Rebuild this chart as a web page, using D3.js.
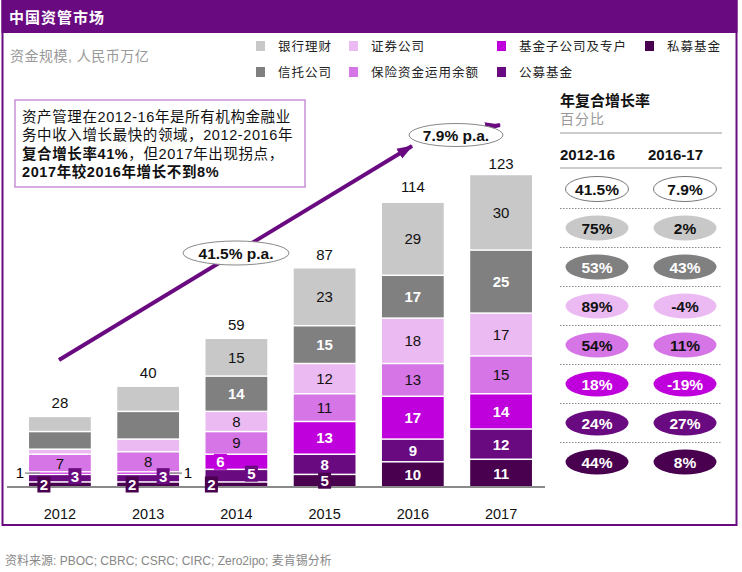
<!DOCTYPE html>
<html>
<head>
<meta charset="utf-8">
<script src="https://cdn.jsdelivr.net/npm/d3@7"></script>
<style>
body{margin:0;background:#fff;}
svg text{font-family:Arial,"Liberation Sans","Noto Sans CJK SC",sans-serif;}
</style>
</head>
<body>
<svg id="svg" width="742" height="572"></svg>
<script>
// data, bottom of stack first
var years = ["2012","2013","2014","2015","2016","2017"];
var seriesNames = ["私募基金","公募基金","基金子公司及专户","保险资金运用余额","证券公司","信托公司","银行理财"];
var privateFunds = [2,2,2,5,10,11];
var mutualFunds = [3,3,5,8,9,12];
var fundSubs = [1,1,6,13,17,14];
var insurance = [7,8,9,11,13,15];
var securities = [2,5,8,12,18,17];
var trusts = [7,11,14,15,17,25];
var bankWmp = [6,10,15,23,29,30];
var totals = [28,40,59,87,114,123];
var cagr1216 = ["41.5%","75%","53%","89%","54%","18%","24%","44%"];
var cagr1617 = ["7.9%","2%","43%","-4%","11%","-19%","27%","8%"];
var legendOrder = ["银行理财","证券公司","基金子公司及专户","私募基金","信托公司","保险资金运用余额","公募基金"];

var colors = {"私募基金":"#48004f","公募基金":"#6a0a80","基金子公司及专户":"#c000dc","保险资金运用余额":"#d676e6","证券公司":"#ecbaf2","信托公司":"#808080","银行理财":"#c8c8c8"};
var whiteText = {"私募基金":1,"公募基金":1,"基金子公司及专户":1,"信托公司":1};
var purple = "#6a0a80";

var svg = d3.select("#svg");
var values = [privateFunds,mutualFunds,fundSubs,insurance,securities,trusts,bankWmp];
var rows = years.map(function(y,i){
	var r = {year:y};
	seriesNames.forEach(function(s,j){ r[s] = values[j][i]; });
	return r;
});
var stack = d3.stack().keys(seriesNames)(rows);

var x = d3.scaleBand().domain(years).range([15.8,545.2]).paddingInner(0.3).paddingOuter(0.15);
var y = d3.scaleLinear().domain([0,123]).range([487,177]);

// frame + header
svg.append("rect").attr("x",2.5).attr("y",1).attr("width",734).attr("height",524).attr("fill","none").attr("stroke",purple).attr("stroke-width",2);
svg.append("rect").attr("x",1.5).attr("y",0).attr("width",736).attr("height",33).attr("fill",purple);
svg.append("text").attr("x",9).attr("y",23).attr("fill","#fff").attr("font-size",15).attr("font-weight","bold").attr("letter-spacing",1).text("中国资管市场");

svg.append("text").attr("x",10).attr("y",61).attr("fill","#999").attr("font-size",14).attr("letter-spacing",0.5).text("资金规模, 人民币万亿");

// legend
var legX = [256,349,497,645];
legendOrder.forEach(function(n,i){
	var lx = legX[i%4], ly = i<4 ? 41 : 67;
	svg.append("rect").attr("x",lx).attr("y",ly).attr("width",9).attr("height",10).attr("fill",colors[n]);
	svg.append("text").attr("x",lx+22).attr("y",ly+9.5).attr("font-size",12.5).attr("letter-spacing",1).attr("fill","#222").text(n);
});

// callout box
svg.append("rect").attr("x",15).attr("y",100).attr("width",290).attr("height",87).attr("fill","#fff").attr("stroke","#c890d8").attr("stroke-width",1.5);
var boxLines = [
	[["资产管理在2012-16年是所有机构金融业",0]],
	[["务中收入增长最快的领域，2012-2016年",0]],
	[["复合增长率41%",1],["，但2017年出现拐点，",0]],
	[["2017年较2016年增长不到8%",1]]
];
boxLines.forEach(function(l,i){
	var t = svg.append("text").attr("x",22).attr("y",122+i*18.3).attr("font-size",14.5).attr("letter-spacing",0.6).attr("fill","#111");
	l.forEach(function(p){ t.append("tspan").attr("font-weight",p[1]?"bold":"normal").text(p[0]); });
});

// bars
var g = svg.append("g");
stack.forEach(function(layer){
	g.selectAll(null).data(layer).enter().append("rect")
		.attr("x",function(d){ return x(d.data.year); })
		.attr("width",x.bandwidth())
		.attr("y",function(d){ return y(d[1])+0.75; })
		.attr("height",function(d){ return Math.max(0.6,y(d[0])-y(d[1])-1.5); })
		.attr("fill",colors[layer.key]);
});

svg.append("line").attr("x1",7).attr("x2",545).attr("y1",487).attr("y2",487).attr("stroke","#8a8a8a").attr("stroke-width",2);

// segment labels; small ones get a tag box, some hidden
var hidden = {"2012":["证券公司","信托公司","银行理财"],"2013":["证券公司","信托公司","银行理财"]};
var tagNudge = {"2012私募基金":-16,"2012公募基金":15,"2013私募基金":-16,"2013公募基金":15,"2014私募基金":-25,"2014公募基金":15,"2014基金子公司及专户":-16,"2015私募基金":0};
var sideLabel = {"2012基金子公司及专户":[20,25,40],"2013基金子公司及专户":[188,169,182]};
stack.forEach(function(layer){
	var k = layer.key;
	layer.forEach(function(d){
		var yr = d.data.year;
		if(hidden[yr] && hidden[yr].indexOf(k)>=0) return;
		var v = d[1]-d[0];
		var cx = x(yr)+x.bandwidth()/2, cy = (y(d[0])+y(d[1]))/2;
		var key = yr+k;
		var isW = whiteText[k];
		if(sideLabel[key]){
			var s = sideLabel[key];
			svg.append("line").attr("x1",s[1]).attr("x2",s[2]).attr("y1",cy).attr("y2",cy).attr("stroke","#999").attr("stroke-width",1.5);
			svg.append("text").attr("x",s[0]).attr("y",cy+5).attr("text-anchor","middle").attr("font-size",15).text(v);
			return;
		}
		if(tagNudge[key]!==undefined){
			cx += tagNudge[key];
			if(k=="私募基金" && yr!="2015") cy = 484.5;
			if(k=="公募基金") cy -= 2;
			svg.append("rect").attr("x",cx-6.5).attr("y",cy-8).attr("width",13).attr("height",16).attr("fill",colors[k]);
		}
		svg.append("text").attr("x",cx).attr("y",cy+5.5).attr("text-anchor","middle")
			.attr("font-size",15).attr("font-weight",isW?"bold":"normal").attr("fill",isW?"#fff":"#111").text(v);
	});
});

// totals and years
svg.selectAll(null).data(years).enter().append("text")
	.attr("x",function(d){ return x(d)+x.bandwidth()/2; })
	.attr("y",function(d,i){ return y(totals[i])-8; })
	.attr("text-anchor","middle").attr("font-size",15).attr("fill","#111")
	.text(function(d,i){ return totals[i]; });
svg.selectAll(null).data(years).enter().append("text")
	.attr("x",function(d){ return x(d)+x.bandwidth()/2; })
	.attr("y",519).attr("text-anchor","middle").attr("font-size",14.5).attr("fill","#111")
	.text(function(d){ return d; });

// growth arrows
svg.append("defs").append("marker").attr("id","ah").attr("markerUnits","userSpaceOnUse")
	.attr("viewBox","0 0 14 10").attr("refX",13).attr("refY",5).attr("markerWidth",16).attr("markerHeight",12).attr("orient","auto")
	.append("path").attr("d","M0,0L14,5L0,10Z").attr("fill",purple);
svg.append("line").attr("x1",59).attr("y1",360).attr("x2",412).attr("y2",146).attr("stroke",purple).attr("stroke-width",4).attr("marker-end","url(#ah)");
svg.append("line").attr("x1",440).attr("y1",137).attr("x2",500).attr("y2",125).attr("stroke",purple).attr("stroke-width",4).attr("marker-end","url(#ah)");
[[236,253,53,12,"41.5% p.a."],[456,135,47,11.5,"7.9% p.a."]].forEach(function(e){
	svg.append("ellipse").attr("cx",e[0]).attr("cy",e[1]).attr("rx",e[2]).attr("ry",e[3]).attr("fill","#fff").attr("stroke","#888").attr("stroke-width",1);
	svg.append("text").attr("x",e[0]).attr("y",e[1]+5.5).attr("text-anchor","middle").attr("font-size",15.5).attr("font-weight","bold").attr("fill","#111").text(e[4]);
});

// CAGR panel
svg.append("text").attr("x",560).attr("y",106).attr("font-size",15).attr("font-weight","bold").attr("fill","#111").text("年复合增长率");
svg.append("text").attr("x",560).attr("y",124).attr("font-size",14).attr("fill","#999").attr("letter-spacing",1).text("百分比");
svg.append("line").attr("x1",560).attr("x2",722).attr("y1",133).attr("y2",133).attr("stroke","#999").attr("stroke-width",1.2);
svg.append("text").attr("x",560).attr("y",160).attr("font-size",15).attr("font-weight","bold").attr("fill","#111").text("2012-16");
svg.append("text").attr("x",648).attr("y",160).attr("font-size",15).attr("font-weight","bold").attr("fill","#111").text("2016-17");
svg.append("line").attr("x1",560).attr("x2",722).attr("y1",168).attr("y2",168).attr("stroke","#999").attr("stroke-width",1.2);

var rowFill = ["#fff"].concat(seriesNames.slice().reverse().map(function(n){ return colors[n]; }));
var rowWhite = [0].concat(seriesNames.slice().reverse().map(function(n){ return whiteText[n]?1:0; }));
var ry = d3.scaleLinear().domain([0,1]).range([189,228]);
cagr1216.forEach(function(v,i){
	var cy = ry(i);
	if(i<7) svg.append("line").attr("x1",560).attr("x2",722).attr("y1",cy+19.5).attr("y2",cy+19.5).attr("stroke","#888").attr("stroke-width",1.2).attr("stroke-dasharray","1.5,1.5");
	[[597,v],[685,cagr1617[i]]].forEach(function(c){
		svg.append("ellipse").attr("cx",c[0]).attr("cy",cy).attr("rx",31.5).attr("ry",12.5).attr("fill",rowFill[i]).attr("stroke",i==0?"#777":"none");
		svg.append("text").attr("x",c[0]).attr("y",cy+5.5).attr("text-anchor","middle").attr("font-size",15.5).attr("font-weight","bold").attr("fill",rowWhite[i]?"#fff":"#111").text(c[1]);
	});
});

svg.append("text").attr("x",5).attr("y",565).attr("font-size",12).attr("fill","#888").text("资料来源: PBOC; CBRC; CSRC; CIRC; Zero2ipo; 麦肯锡分析");
</script>
</body>
</html>
